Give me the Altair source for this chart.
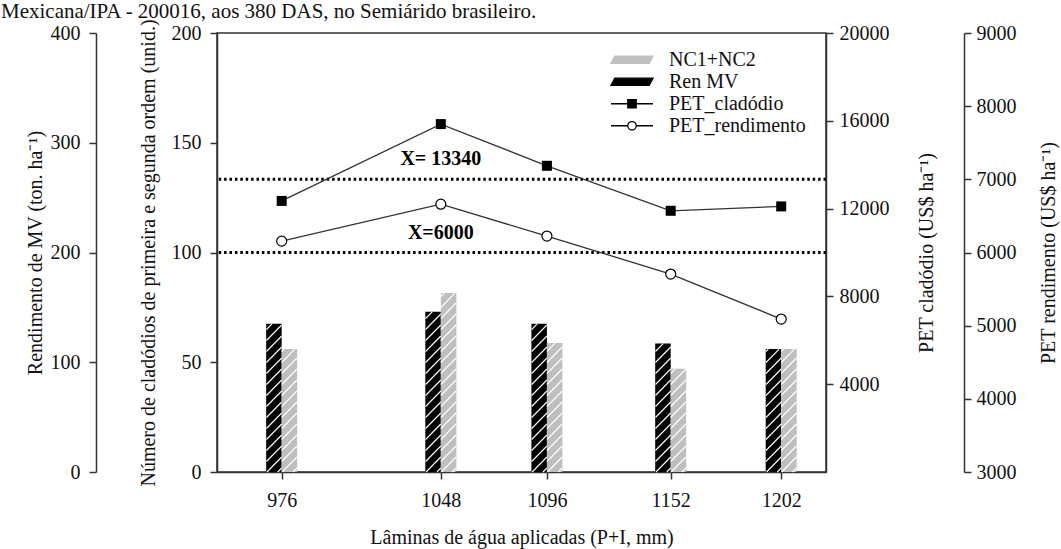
import altair as alt
import pandas as pd

# ---------------- data ----------------
laminas = [976, 1048, 1096, 1152, 1202]
ren_mv = [135, 146, 135, 117, 112]            # ton ha-1 (left outer axis)
nc1_nc2 = [56, 81.5, 58.8, 47, 56]            # unid. (left inner axis)
pet_cladodio = [12350, 15850, 13950, 11900, 12100]   # US$ ha-1
pet_rendimento = [6155, 6660, 6225, 5705, 5090]      # US$ ha-1
ref_cladodio = [13340]
ref_rendimento = [6000]
ref_labels_c = ["X= 13340"]
ref_labels_r = ["X=6000"]
ref_label_x = [1048]
x_ticks = [976, 1048, 1096, 1152, 1202]
series = ["NC1+NC2", "Ren MV", "PET_cladódio", "PET_rendimento"]
title_text = ["Mexicana/IPA - 200016, aos 380 DAS, no Semiárido brasileiro."]

F = "Liberation Serif"
BLACK = "#000000"
GRAY = "#bfbfbf"
LINE = "#333333"

# layout constants (pixels)
PLOT_W, PLOT_H = 609, 439
X_DOM = [949, 1220]
BAR_PX = 15.5
HATCH_GAP = 11

df = pd.DataFrame({"lamina": laminas, "ren": ren_mv, "nc": nc1_nc2,
                   "clad": pet_cladodio, "rend": pet_rendimento})
ref_c = pd.DataFrame({"lamina": ref_label_x, "v": ref_cladodio, "label": ref_labels_c})
ref_r = pd.DataFrame({"lamina": ref_label_x, "v": ref_rendimento, "label": ref_labels_r})
leg_df = pd.DataFrame({"serie": series})
title_df = pd.DataFrame({"t": title_text})


def hatch_table(xs, tops, side, ymax):
    """White diagonal hatch strokes inside each bar (texture only)."""
    px_x = PLOT_W / (X_DOM[1] - X_DOM[0])
    uy = ymax / PLOT_H
    rows = []
    for x, top in zip(xs, tops):
        x0 = x - BAR_PX / px_x if side < 0 else x
        top_px = top / uy
        s = -BAR_PX + 4
        while s < top_px:
            a, b = max(s, 0), min(s + BAR_PX, top_px)
            if b > a:
                rows.append({"lamina": x0 + (a - s) / px_x, "hx2": x0 + (b - s) / px_x,
                             "hy1": a * uy, "hy2": b * uy})
            s += HATCH_GAP
    return pd.DataFrame(rows)


xscale = alt.Scale(domain=X_DOM, nice=False, zero=False)
xaxis = alt.Axis(values=x_ticks, format="d", title="Lâminas de água aplicadas (P+I, mm)",
                 tickSize=7, labelPadding=11, titlePadding=17)
X = alt.X("lamina:Q", scale=xscale, axis=xaxis)

ren_bar = alt.Chart(df).mark_bar(width=BAR_PX, xOffset=-BAR_PX / 2, color=BLACK).encode(
    x=X,
    y=alt.Y("ren:Q", scale=alt.Scale(domain=[0, 400], nice=False),
            axis=alt.Axis(orient="left", offset=121, values=[0, 100, 200, 300, 400],
                          title="Rendimento de MV (ton. ha⁻¹)", titlePadding=5)))

nc_bar = alt.Chart(df).mark_bar(width=BAR_PX, xOffset=BAR_PX / 2, color=GRAY).encode(
    x=X,
    y=alt.Y("nc:Q", scale=alt.Scale(domain=[0, 200], nice=False),
            axis=alt.Axis(orient="left", offset=0, values=[0, 50, 100, 150, 200],
                          title="Número de cladódios de primeira e segunda ordem (unid.)",
                          titlePadding=13)))


def hatch_layer(table, ymax):
    return alt.Chart(table).mark_rule(color="white", strokeWidth=1.1).encode(
        x=X, x2="hx2:Q",
        y=alt.Y("hy1:Q", scale=alt.Scale(domain=[0, ymax], nice=False), axis=None), y2="hy2:Q")


ren_hatch = hatch_layer(hatch_table(laminas, ren_mv, -1, 400), 400)
nc_hatch = hatch_layer(hatch_table(laminas, nc1_nc2, +1, 200), 200)

dots = dict(color=BLACK, strokeWidth=3, strokeDash=[2.5, 2.9])
rule_c = alt.Chart(ref_c).mark_rule(**dots).encode(
    y=alt.Y("v:Q", scale=alt.Scale(domain=[0, 20000], nice=False), axis=None))
rule_r = alt.Chart(ref_r).mark_rule(**dots).encode(
    y=alt.Y("v:Q", scale=alt.Scale(domain=[3000, 9000], nice=False), axis=None))

clad_line = alt.Chart(df).mark_line(
    color=LINE, strokeWidth=1.3,
    point=alt.OverlayMarkDef(shape="square", filled=True, color=BLACK, size=100, opacity=1)).encode(
    x=X,
    y=alt.Y("clad:Q", scale=alt.Scale(domain=[0, 20000], nice=False),
            axis=alt.Axis(orient="right", offset=0, values=[4000, 8000, 12000, 16000, 20000],
                          format="d", title="PET cladódio (US$ ha⁻¹)", titleAngle=270,
                          titleBaseline="top", labelPadding=6, titlePadding=27)))

rend_line = alt.Chart(df).mark_line(
    color=LINE, strokeWidth=1.3,
    point=alt.OverlayMarkDef(shape="circle", filled=True, fill="white", stroke=BLACK,
                             strokeWidth=1.2, size=100, opacity=1)).encode(
    x=X,
    y=alt.Y("rend:Q", scale=alt.Scale(domain=[3000, 9000], nice=False),
            axis=alt.Axis(orient="right", offset=138, values=[3000, 4000, 5000, 6000, 7000, 8000, 9000],
                          format="d", title="PET rendimento (US$ ha⁻¹)", titleAngle=270,
                          titleBaseline="top", labelPadding=5, titlePadding=22)))

txt = dict(font=F, fontSize=20, fontWeight="bold", color=BLACK, dy=-20, align="center", baseline="middle")
text_c = alt.Chart(ref_c).mark_text(**txt).encode(
    x=X, y=alt.Y("v:Q", scale=alt.Scale(domain=[0, 20000], nice=False), axis=None), text="label:N")
text_r = alt.Chart(ref_r).mark_text(**txt).encode(
    x=X, y=alt.Y("v:Q", scale=alt.Scale(domain=[3000, 9000], nice=False), axis=None), text="label:N")

# page heading above the plot (cropped in the source figure)
heading = alt.Chart(title_df).mark_text(
    align="left", baseline="alphabetic", font=F, fontSize=21, color="#111"
).encode(x=alt.value(-216), y=alt.value(-15), text="t:N")

# legend (custom symbol paths, unit scaled by sqrt(size)/2)
paths = [
    "M-1,0.17 L-0.82,-0.17 L1,-0.17 L0.82,0.17 Z",
    "M-1,0.17 L-0.82,-0.17 L1,-0.17 L0.82,0.17 Z",
    "M-1,0 L1,0 M-0.2,-0.2 L0.2,-0.2 L0.2,0.2 L-0.2,0.2 Z",
    "M-1,0 L-0.2,0 M0.2,0 L1,0 M0.2,0 A0.2,0.2 0 1,1 -0.2,0 A0.2,0.2 0 1,1 0.2,0 Z",
]
fills = [GRAY, BLACK, BLACK, "white"]
strokes = [GRAY, BLACK, BLACK, BLACK]
leg = alt.Legend(orient="none", legendX=393, legendY=16, title=None, symbolSize=1764,
                 symbolStrokeWidth=1.3, labelFont=F, labelFontSize=20, labelColor="#111",
                 clipHeight=21.5, labelOffset=15, padding=0, rowPadding=0, symbolOpacity=1)
legend_layer = alt.Chart(leg_df).mark_point(filled=True).encode(
    shape=alt.Shape("serie:N", scale=alt.Scale(domain=series, range=paths), legend=leg),
    fill=alt.Fill("serie:N", scale=alt.Scale(domain=series, range=fills), legend=leg),
    stroke=alt.Stroke("serie:N", scale=alt.Scale(domain=series, range=strokes), legend=leg),
).transform_filter("false")

chart = alt.layer(
    ren_bar, nc_bar, ren_hatch, nc_hatch, rule_c, rule_r, clad_line, rend_line,
    text_c, text_r, heading, legend_layer
).resolve_scale(
    y="independent"
).properties(
    width=PLOT_W, height=PLOT_H,
    autosize=alt.AutoSizeParams(type="none"),
    padding={"left": 217, "top": 33, "right": 235, "bottom": 77},
).configure_view(
    stroke=LINE, strokeWidth=1.5
).configure_axis(
    labelFont=F, titleFont=F, labelFontSize=20, titleFontSize=20, titleFontWeight="normal",
    labelColor="#111", titleColor="#111", domainColor=LINE, tickColor=LINE,
    domainWidth=1.5, tickWidth=1.5, grid=False, tickSize=7, labelPadding=9,
    labelFlush=False, labelOverlap=False
)

chart.save("out.html", embed_options={"renderer": "svg", "actions": False})
